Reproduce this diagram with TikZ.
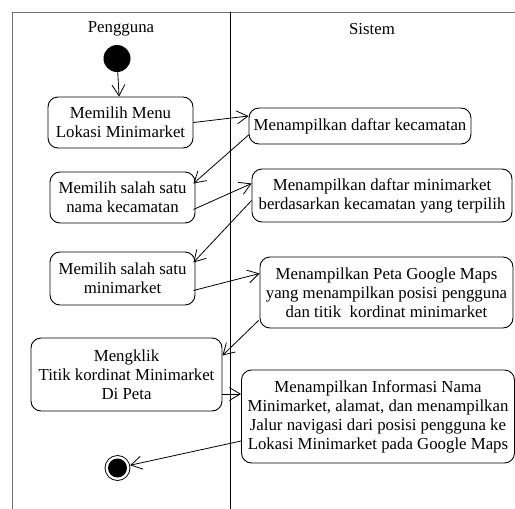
\documentclass[tikz,border=0pt]{standalone}
\usepackage{fontspec}
\setmainfont{Liberation Serif}
\usetikzlibrary{arrows.meta,calc}
\begin{document}
\begin{tikzpicture}[x=1pt,y=-1pt,
  every node/.style={font=\fontsize{16.8}{19}\selectfont},
  act/.style={draw,line width=0.9pt,rounded corners=10pt,align=center,inner sep=0pt},
  flow/.style={line width=0.8pt,-{Straight Barb[length=11pt,width=13pt,line width=0.8pt]}},
  lane/.style={line width=1pt}]
\useasboundingbox (0,0) rectangle (515,509);
% swimlane frame
\draw[lane,black!55] (12,509) -- (12,12) -- (515,12);
\draw[lane] (230,12) -- (230,509);
\node (hU) at (121,29) {Pengguna};
\node (hS) at (372,29) {Sistem};
% start and end states
\node[circle,fill=black,minimum size=27pt,inner sep=0pt] (s) at (117,58.5) {};
\node[circle,draw,line width=0.8pt,minimum size=25pt,inner sep=0pt] (e) at (117.5,468) {};
\fill (e.center) circle (9.5);
% activities
\node[act,minimum width=145pt,minimum height=51pt] (b1) at (120.5,122.5) {Memilih Menu\\Lokasi Minimarket};
\node[act,minimum width=222pt,minimum height=36pt] (b2) at (360,126) {Menampilkan daftar kecamatan};
\node[act,minimum width=145pt,minimum height=51pt] (b3) at (122.5,197.5) {Memilih salah satu\\nama kecamatan};
\node[act,minimum width=260pt,minimum height=53pt] (b4) at (382,195.5) {Menampilkan daftar minimarket\\berdasarkan kecamatan yang terpilih};
\node[act,minimum width=145pt,minimum height=53pt] (b5) at (122.5,278.5) {Memilih salah satu\\minimarket};
\node[act,minimum width=253pt,minimum height=71pt] (b6) at (386.5,292.5) {Menampilkan Peta Google Maps\\yang menampilkan posisi pengguna\\dan titik\ \ kordinat minimarket};
\node[act,minimum width=191pt,minimum height=73pt] (b7) at (126.5,374.5) {Mengklik\\Titik kordinat Minimarket\\Di Peta};
\node[act,minimum width=273pt,minimum height=93pt] (b8) at (378,416.5) {Menampilkan Informasi Nama\\Minimarket, alamat, dan menampilkan\\Jalur navigasi dari posisi pengguna ke\\Lokasi Minimarket pada Google Maps};
% control flow
\draw[flow] (s) -- (b1);
\draw[flow] (b1.east) -- ($(b2.west)+(0,-10)$);
\draw[flow] ($(b2.west)+(0,9)$) -- ($(b3.east)+(-2,-14)$);
\draw[flow] ($(b3.east)+(-2,12)$) -- ($(b4.west)+(0,-12)$);
\draw[flow] ($(b4.west)+(0,5)$) -- ($(b5.east)+(-2,-16)$);
\draw[flow] ($(b5.east)+(-2,12)$) -- ($(b6.west)+(0,-19)$);
\draw[flow] ($(b6.south west)+(-1,-8)$) -- ($(b7.east)+(0,-19)$);
\draw[flow] ($(b7.east)+(0,19.5)$) -- ($(b8.west)+(0,-22.5)$);
\draw[flow] ($(b8.west)+(0,24.5)$) -- (e);
\end{tikzpicture}
\end{document}
